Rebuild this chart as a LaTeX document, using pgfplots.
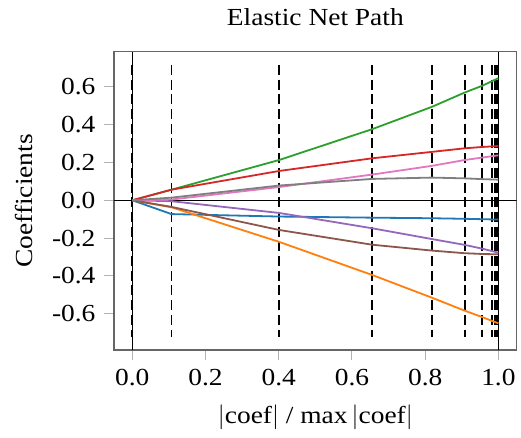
\documentclass[border=0pt]{standalone}
\usepackage{fontspec}
\setmainfont{Liberation Serif}[FakeStretch=1.12]
\usepackage{pgfplots}
\pgfplotsset{compat=1.18}
\definecolor{tabblue}{HTML}{1f77b4}
\definecolor{taborange}{HTML}{ff7f0e}
\definecolor{tabgreen}{HTML}{2ca02c}
\definecolor{tabred}{HTML}{d62728}
\definecolor{tabpurple}{HTML}{9467bd}
\definecolor{tabbrown}{HTML}{8c564b}
\definecolor{tabpink}{HTML}{e377c2}
\definecolor{tabgray}{HTML}{7f7f7f}
\begin{document}
\begin{tikzpicture}
\begin{axis}[name=ax,
scale only axis,
width=402.7pt,
height=298.3pt,
xmin=-0.05, xmax=1.05,
ymin=-0.792, ymax=0.786,
xtick={0,0.2,0.4,0.6,0.8,1.0},
ytick={-0.6,-0.4,-0.2,0,0.2,0.4,0.6},
tick align=outside,
tick pos=left,
major tick length=10pt,
tick style={gray!60, line width=1pt},
axis line style={gray!80!black, line width=1.2pt},
tick label style={font=\fontsize{24.5}{28}\selectfont},
xticklabel style={yshift=-6pt, /pgf/number format/.cd,fixed,fixed zerofill,precision=1,assume math mode=true},
yticklabel style={xshift=-5pt, /pgf/number format/.cd,fixed,fixed zerofill,precision=1,assume math mode=true},
label style={font=\fontsize{24.5}{28}\selectfont},
xlabel style={yshift=-12pt},
ylabel style={yshift=12pt},
title style={font=\fontsize{24.5}{28}\selectfont, yshift=16pt},
title={Elastic Net Path},
xlabel={$|$coef$|$ / max\,$|$coef$|$},
ylabel={Coefficients},
every axis plot/.append style={line width=1.8pt, mark=none},
]
% solid reference lines
\addplot[black, line width=1.2pt] coordinates {(-0.05,0) (1.05,0)};
\addplot[black, line width=1.2pt] coordinates {(0,-0.792) (0,0.786)};
\addplot[black, line width=1.2pt] coordinates {(1,-0.792) (1,0.786)};
% dashed knots
\pgfplotsset{knot/.style={black, line width=1.8pt, dash pattern=on 10pt off 4.7pt}}
\addplot[knot] coordinates {(0,0.716) (0,-0.722)};
\addplot[knot] coordinates {(0.107,0.716) (0.107,-0.722)};
\addplot[knot] coordinates {(0.401,0.716) (0.401,-0.722)};
\addplot[knot] coordinates {(0.655,0.716) (0.655,-0.722)};
\addplot[knot] coordinates {(0.818,0.716) (0.818,-0.722)};
\addplot[knot] coordinates {(0.908,0.716) (0.908,-0.722)};
\addplot[knot] coordinates {(0.956,0.716) (0.956,-0.722)};
\addplot[knot] coordinates {(0.982,0.716) (0.982,-0.722)};
\addplot[knot] coordinates {(0.991,0.716) (0.991,-0.722)};
\addplot[knot] coordinates {(0.996,0.716) (0.996,-0.722)};
% coefficient paths
\addplot[tabblue] coordinates {(0,0) (0.107,-0.073) (0.401,-0.086) (0.655,-0.092) (0.818,-0.095) (0.908,-0.098) (1.0,-0.102)};
\addplot[taborange] coordinates {(0,0) (0.107,-0.037) (0.401,-0.220) (0.655,-0.395) (0.818,-0.515) (0.908,-0.584) (0.956,-0.618) (1.0,-0.651)};
\addplot[tabgreen] coordinates {(0,0) (0.107,0.056) (0.401,0.213) (0.655,0.376) (0.818,0.494) (0.908,0.570) (0.956,0.606) (1.0,0.646)};
\addplot[tabred] coordinates {(0,0) (0.107,0.056) (0.401,0.155) (0.655,0.222) (0.818,0.256) (0.908,0.275) (0.956,0.282) (1.0,0.287)};
\addplot[tabpurple] coordinates {(0,0) (0.107,-0.005) (0.401,-0.067) (0.655,-0.148) (0.818,-0.205) (0.908,-0.236) (0.956,-0.256) (1.0,-0.277)};
\addplot[tabbrown] coordinates {(0,0) (0.107,-0.035) (0.401,-0.157) (0.655,-0.235) (0.818,-0.266) (0.908,-0.280) (0.956,-0.284) (1.0,-0.286)};
\addplot[tabpink] coordinates {(0,0) (0.107,0.004) (0.401,0.070) (0.655,0.136) (0.818,0.182) (0.908,0.213) (0.956,0.226) (1.0,0.238)};
\addplot[tabgray] coordinates {(0,0) (0.107,0.014) (0.401,0.078) (0.655,0.113) (0.818,0.120) (0.908,0.116) (0.956,0.112) (1.0,0.109)};
\end{axis}
\pgfresetboundingbox
\path ([xshift=-114pt,yshift=-87pt]ax.south west) rectangle ([xshift=4.3pt,yshift=51.7pt]ax.north east);
\end{tikzpicture}
\end{document}
